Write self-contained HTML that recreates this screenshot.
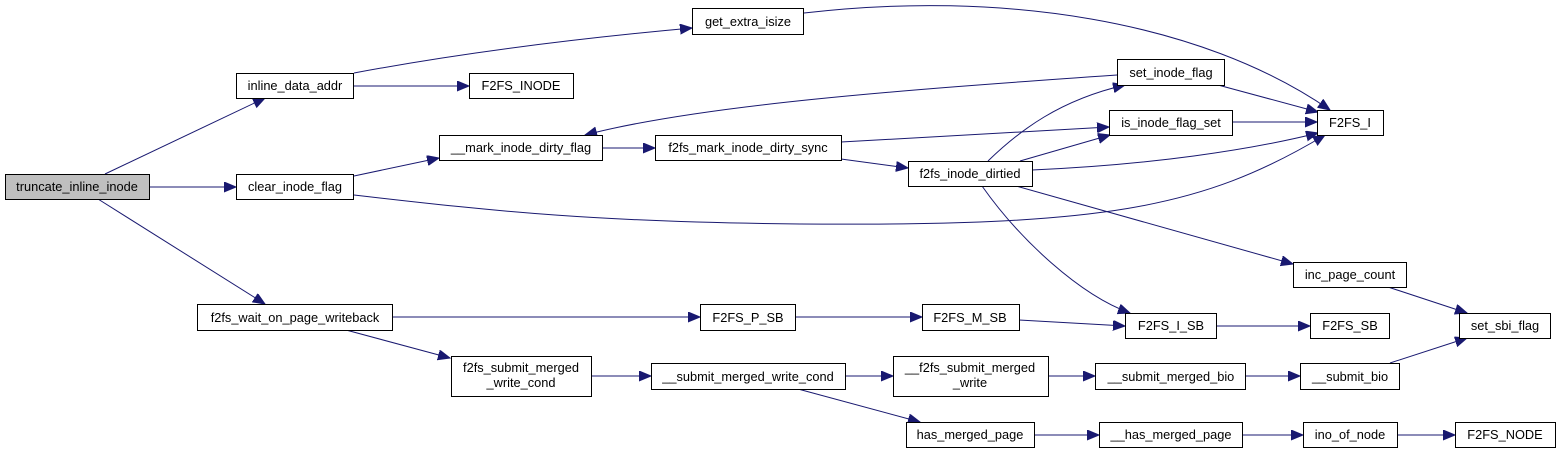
<!DOCTYPE html>
<html><head><meta charset="utf-8"><style>
html,body{margin:0;padding:0;background:#fff;}
svg{display:block;}
text{font-family:"Liberation Sans",sans-serif;font-size:12.8px;fill:#000;}
.n{fill:#fff;stroke:#000;stroke-width:1;}
.e{fill:none;stroke:#191970;stroke-width:1;marker-end:url(#a);}
</style></head><body>
<svg width="1560" height="454" viewBox="0 0 1560 454" xmlns="http://www.w3.org/2000/svg">
<defs><marker id="a" markerUnits="userSpaceOnUse" markerWidth="14" markerHeight="11" refX="12" refY="5" orient="auto"><path d="M0,0 L12,5 L0,10 z" fill="#191970" stroke="#191970"/></marker></defs>
<g>
<path class="e" d="M105,174 L265,98"/>
<path class="e" d="M149,187 L236,187"/>
<path class="e" d="M98,199 L265,304"/>
<path class="e" d="M354,73 C450,55 560,40 692,28"/>
<path class="e" d="M354,86 L469,86"/>
<path class="e" d="M354,176 L439,158"/>
<path class="e" d="M354,195 C500,212 600,222 800,224 C1100,226 1200,210 1325,135"/>
<path class="e" d="M602,148 L655,148"/>
<path class="e" d="M1117,75 C900,90 700,105 585,135"/>
<path class="e" d="M841,142 L1109,127"/>
<path class="e" d="M841,159 L908,168"/>
<path class="e" d="M988,161 C1020,130 1060,100 1125,85"/>
<path class="e" d="M1020,161 L1110,135"/>
<path class="e" d="M1032,170 C1150,165 1250,150 1318,133"/>
<path class="e" d="M982,186 C1020,240 1080,295 1130,313"/>
<path class="e" d="M1016,186 L1293,264"/>
<path class="e" d="M804,13 C1000,-10 1200,20 1330,110"/>
<path class="e" d="M1218,85 L1318,112"/>
<path class="e" d="M1232,122 L1317,122"/>
<path class="e" d="M1388,287 L1467,313"/>
<path class="e" d="M1390,363 L1467,338"/>
<path class="e" d="M392,317 L700,317"/>
<path class="e" d="M346,330 L450,358"/>
<path class="e" d="M795,317 L922,317"/>
<path class="e" d="M1019,320 L1125,326"/>
<path class="e" d="M1216,326 L1310,326"/>
<path class="e" d="M591,376 L651,376"/>
<path class="e" d="M845,376 L893,376"/>
<path class="e" d="M798,389 L920,422"/>
<path class="e" d="M1048,376 L1095,376"/>
<path class="e" d="M1245,376 L1300,376"/>
<path class="e" d="M1034,435 L1099,435"/>
<path class="e" d="M1242,435 L1303,435"/>
<path class="e" d="M1397,435 L1455,435"/>
</g>
<g text-anchor="middle">
<rect x="5.5" y="174.5" width="144" height="25" fill="#bfbfbf" stroke="#000"/><text x="77" y="191">truncate_inline_inode</text>
<rect class="n" x="236.5" y="73.5" width="117" height="25"/><text x="295" y="90">inline_data_addr</text>
<rect class="n" x="469.5" y="73.5" width="104" height="25"/><text x="521" y="90">F2FS_INODE</text>
<rect class="n" x="236.5" y="174.5" width="117" height="25"/><text x="295" y="191">clear_inode_flag</text>
<rect class="n" x="439.5" y="135.5" width="163" height="25"/><text x="521" y="152">__mark_inode_dirty_flag</text>
<rect class="n" x="692.5" y="8.5" width="111" height="26"/><text x="748" y="26">get_extra_isize</text>
<rect class="n" x="1117.5" y="59.5" width="107" height="26"/><text x="1171" y="77">set_inode_flag</text>
<rect class="n" x="1109.5" y="110.5" width="123" height="25"/><text x="1171" y="127">is_inode_flag_set</text>
<rect class="n" x="1317.5" y="110.5" width="66" height="25"/><text x="1350" y="127">F2FS_I</text>
<rect class="n" x="655.5" y="135.5" width="186" height="25"/><text x="748" y="152">f2fs_mark_inode_dirty_sync</text>
<rect class="n" x="908.5" y="161.5" width="124" height="25"/><text x="970" y="178">f2fs_inode_dirtied</text>
<rect class="n" x="197.5" y="304.5" width="195" height="26"/><text x="295" y="322">f2fs_wait_on_page_writeback</text>
<rect class="n" x="451.5" y="356.5" width="140" height="40"/><text x="521" y="372">f2fs_submit_merged</text><text x="521" y="387">_write_cond</text>
<rect class="n" x="700.5" y="304.5" width="95" height="26"/><text x="748" y="322">F2FS_P_SB</text>
<rect class="n" x="651.5" y="363.5" width="194" height="26"/><text x="748" y="381">__submit_merged_write_cond</text>
<rect class="n" x="922.5" y="304.5" width="97" height="26"/><text x="970" y="322">F2FS_M_SB</text>
<rect class="n" x="1125.5" y="313.5" width="91" height="25"/><text x="1171" y="330">F2FS_I_SB</text>
<rect class="n" x="1310.5" y="313.5" width="79" height="25"/><text x="1350" y="330">F2FS_SB</text>
<rect class="n" x="1293.5" y="262.5" width="113" height="25"/><text x="1350" y="279">inc_page_count</text>
<rect class="n" x="1459.5" y="313.5" width="91" height="25"/><text x="1505" y="330">set_sbi_flag</text>
<rect class="n" x="893.5" y="356.5" width="155" height="40"/><text x="970" y="372">__f2fs_submit_merged</text><text x="970" y="387">_write</text>
<rect class="n" x="1095.5" y="363.5" width="150" height="26"/><text x="1171" y="381">__submit_merged_bio</text>
<rect class="n" x="1300.5" y="363.5" width="99" height="26"/><text x="1350" y="381">__submit_bio</text>
<rect class="n" x="906.5" y="422.5" width="128" height="25"/><text x="970" y="439">has_merged_page</text>
<rect class="n" x="1099.5" y="422.5" width="143" height="25"/><text x="1171" y="439">__has_merged_page</text>
<rect class="n" x="1303.5" y="422.5" width="94" height="25"/><text x="1350" y="439">ino_of_node</text>
<rect class="n" x="1455.5" y="422.5" width="100" height="25"/><text x="1505" y="439">F2FS_NODE</text>
</g>
</svg>
</body></html>
